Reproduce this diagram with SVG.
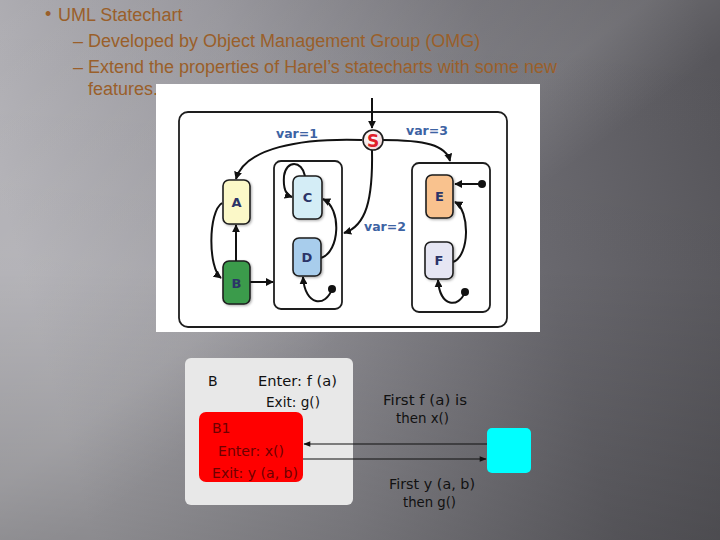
<svg xmlns="http://www.w3.org/2000/svg" width="720" height="540" viewBox="0 0 720 540">
<defs>
  <linearGradient id="bg" x1="0" y1="0.35" x2="1" y2="0.15">
    <stop offset="0" stop-color="#b3b2b7"/>
    <stop offset="0.35" stop-color="#95949a"/>
    <stop offset="0.7" stop-color="#6b6a70"/>
    <stop offset="1" stop-color="#57565b"/>
  </linearGradient>
  <linearGradient id="shade" x1="0" y1="0" x2="0" y2="1">
    <stop offset="0" stop-color="#000" stop-opacity="0"/>
    <stop offset="0.5" stop-color="#000" stop-opacity="0.02"/>
    <stop offset="1" stop-color="#000" stop-opacity="0.22"/>
  </linearGradient>
  <linearGradient id="streak" x1="0" y1="0" x2="1" y2="1">
    <stop offset="0" stop-color="#fff" stop-opacity="0"/>
    <stop offset="0.45" stop-color="#fff" stop-opacity="0.12"/>
    <stop offset="0.55" stop-color="#fff" stop-opacity="0"/>
  </linearGradient>
  <radialGradient id="sfill" cx="0.4" cy="0.35" r="0.7">
    <stop offset="0" stop-color="#ffffff"/>
    <stop offset="1" stop-color="#f1d6d6"/>
  </radialGradient>
  <marker id="ah" viewBox="0 0 10 10" refX="9" refY="5" markerWidth="8" markerHeight="8" markerUnits="userSpaceOnUse" orient="auto">
    <path d="M0,0 L10,5 L0,10 z" fill="#111"/>
  </marker>
  <marker id="ah2" viewBox="0 0 10 10" refX="9" refY="5" markerWidth="9" markerHeight="7" markerUnits="userSpaceOnUse" orient="auto">
    <path d="M0,1 L10,5 L0,9 z" fill="#111"/>
  </marker>
  <filter id="sh" x="-20%" y="-20%" width="150%" height="150%">
    <feDropShadow dx="1.2" dy="1.2" stdDeviation="0.8" flood-color="#000" flood-opacity="0.3"/>
  </filter>
</defs>
<style>
  .title { font-family: "Liberation Sans", Arial, sans-serif; font-size: 18px; fill: #9a5f2a; }
  .node rect { stroke: #1e1e1e; stroke-width: 1.6; }
  .nlab { font-family: "DejaVu Sans", sans-serif; font-weight: bold; font-size: 13px; fill: #2b3468; text-anchor: middle; }
  .var { font-family: "DejaVu Sans", sans-serif; font-weight: bold; font-size: 12.5px; fill: #3d63a3; }
  .conn path, .conn line { fill: none; stroke: #111; stroke-width: 2; }
  .box { fill: #fff; stroke: #1e1e1e; stroke-width: 1.8; }
  .bt { font-family: "DejaVu Sans", sans-serif; font-size: 14px; fill: #111; }
  .rt { font-family: "DejaVu Sans", sans-serif; font-size: 14px; fill: #6e0000; }
  .thin line { stroke: #111; stroke-width: 1.2; }
</style>

<!-- background -->
<rect x="0" y="0" width="720" height="540" fill="url(#bg)"/>
<rect x="0" y="0" width="720" height="540" fill="url(#streak)"/>
<rect x="0" y="0" width="720" height="540" fill="url(#shade)"/>

<!-- title text -->
<g id="title">
  <text x="45" y="20" class="title" font-size="12">•</text>
  <text x="58" y="21" class="title">UML Statechart</text>
  <text x="73" y="47" class="title">– Developed by Object Management Group (OMG)</text>
  <text x="73" y="73" class="title">– Extend the properties of Harel’s statecharts with some new</text>
  <text x="88" y="95" class="title">features.</text>
</g>

<!-- statechart image -->
<rect x="156" y="84" width="384" height="248" fill="#ffffff"/>
<g id="outer"><rect class="box" x="179" y="112" width="328" height="215" rx="9"/></g>
<g id="boxCD"><rect class="box" x="274" y="161" width="68" height="148" rx="7"/></g>
<g id="boxEF"><rect class="box" x="412" y="163" width="78" height="149" rx="7"/></g>

<g class="conn" id="connectors">
  <line x1="372" y1="98" x2="372" y2="128" marker-end="url(#ah)"/>
  <path d="M362,140 C300,138 245,148 236,179" marker-end="url(#ah)"/>
  <path d="M382,140 C425,140 446,145 450,161" marker-end="url(#ah)"/>
  <path d="M372,150 C373,200 366,226 344,233" marker-end="url(#ah)"/>
  <path d="M222,203 C208,212 208,268 221,278" marker-end="url(#ah)"/>
  <line x1="236" y1="261" x2="236" y2="225" marker-end="url(#ah)"/>
  <line x1="250" y1="282" x2="273" y2="282" marker-end="url(#ah)"/>
  <path d="M305,176 C302,160 286,160 284,176 C283,188 286,195 292,197" marker-end="url(#ah)"/>
  <path d="M321,258 C340,252 342,208 323,199" marker-end="url(#ah)"/>
  <path d="M332,289 C326,307 305,307 303,277" marker-end="url(#ah)"/>
  <line x1="482" y1="184" x2="455" y2="184" marker-end="url(#ah)"/>
  <path d="M453,262 C470,256 470,210 455,202" marker-end="url(#ah)"/>
  <path d="M465,292 C459,308 440,308 438,280" marker-end="url(#ah)"/>
  <circle cx="332" cy="289" r="4" fill="#111"/>
  <circle cx="482" cy="184" r="4" fill="#111"/>
  <circle cx="465" cy="292" r="4" fill="#111"/>
</g>

<g id="S">
  <circle cx="373" cy="140" r="10" fill="url(#sfill)" stroke="#1e1e1e" stroke-width="1.6"/>
  <text x="373" y="146.5" font-family="DejaVu Sans, sans-serif" font-weight="bold" font-size="17" fill="#e0202a" text-anchor="middle">S</text>
</g>
<g id="labels">
  <text x="276" y="138" class="var">var=1</text>
  <text x="406" y="135" class="var">var=3</text>
  <text x="364" y="231" class="var">var=2</text>
</g>

<g class="node" id="A"><rect x="223" y="180" width="27" height="44" rx="6" fill="#fbf8c8" filter="url(#sh)"/><text x="236.5" y="207" class="nlab">A</text></g>
<g class="node" id="B"><rect x="223" y="261" width="27" height="43" rx="6" fill="#3a9b4c" filter="url(#sh)"/><text x="236.5" y="288" class="nlab">B</text></g>
<g class="node" id="C"><rect x="293" y="176" width="29" height="43" rx="6" fill="#d4edf6" filter="url(#sh)"/><text x="307.5" y="202" class="nlab">C</text></g>
<g class="node" id="D"><rect x="293" y="238" width="28" height="38" rx="6" fill="#a8cdec" filter="url(#sh)"/><text x="307" y="262" class="nlab">D</text></g>
<g class="node" id="E"><rect x="426" y="175" width="27" height="43" rx="6" fill="#f9c28e" filter="url(#sh)"/><text x="439.5" y="201" class="nlab">E</text></g>
<g class="node" id="F"><rect x="425" y="242" width="28" height="37" rx="6" fill="#e6e6f3" filter="url(#sh)"/><text x="439" y="265" class="nlab">F</text></g>

<!-- bottom panel -->
<g id="Bstate">
  <rect x="185" y="358" width="168" height="147" rx="6" fill="#e8e8e8"/>
  <text x="208" y="386" class="bt">B</text>
  <text x="258" y="386" class="bt" textLength="79" lengthAdjust="spacingAndGlyphs">Enter: f (a)</text>
  <text x="266" y="407" class="bt" textLength="54" lengthAdjust="spacingAndGlyphs">Exit: g()</text>
</g>
<g id="B1">
  <rect x="199" y="412" width="104" height="70" rx="7" fill="#ff0000"/>
  <text x="212" y="433" class="rt">B1</text>
  <text x="218" y="456" class="rt" textLength="66" lengthAdjust="spacingAndGlyphs">Enter: x()</text>
  <text x="212" y="478" class="rt" textLength="86" lengthAdjust="spacingAndGlyphs">Exit: y (a, b)</text>
</g>
<g id="cyan">
  <rect x="487" y="428" width="44" height="45" rx="5" fill="#00ffff"/>
</g>
<g class="thin" id="bottom-connectors">
  <line x1="487" y1="444" x2="304" y2="444" marker-end="url(#ah2)"/>
  <line x1="303" y1="459" x2="486" y2="459" marker-end="url(#ah2)"/>
</g>
<g id="notes">
  <text x="383" y="405" class="bt" textLength="84" lengthAdjust="spacingAndGlyphs">First f (a) is</text>
  <text x="396" y="423" class="bt" textLength="53" lengthAdjust="spacingAndGlyphs">then x()</text>
  <text x="389" y="489" class="bt" textLength="86" lengthAdjust="spacingAndGlyphs">First y (a, b)</text>
  <text x="403" y="507" class="bt" textLength="53" lengthAdjust="spacingAndGlyphs">then g()</text>
</g>
</svg>
